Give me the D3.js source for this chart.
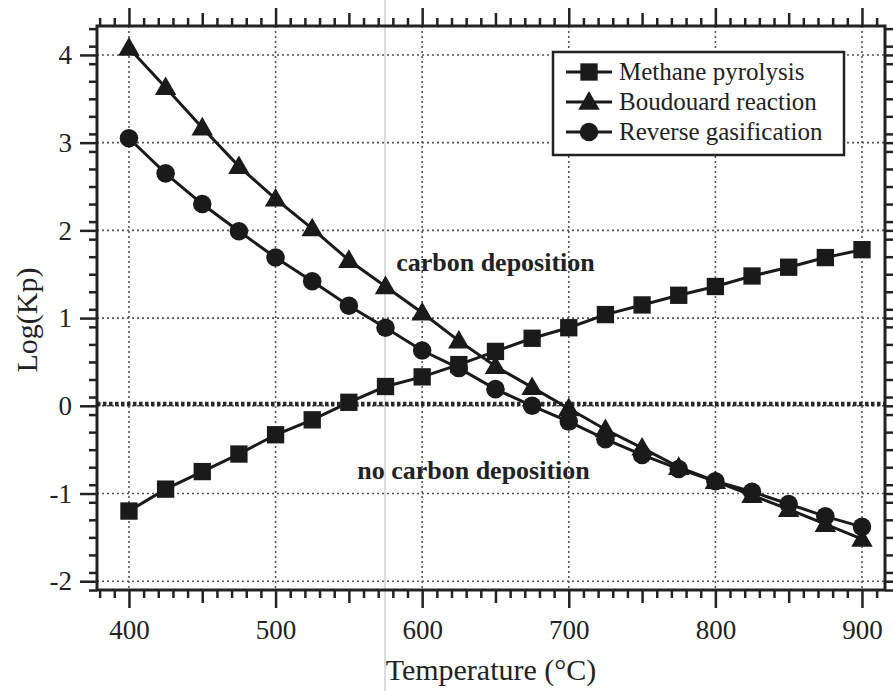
<!DOCTYPE html>
<html>
<head>
<meta charset="utf-8">
<script src="https://cdn.jsdelivr.net/npm/d3@7"></script>
<style>
  html, body { margin: 0; padding: 0; background: #fff; }
  svg { display: block; }
  text { font-family: "Liberation Serif", "Times New Roman", serif !important; fill: #222; }
</style>
</head>
<body>
<svg id="chart" width="893" height="691"></svg>
<script>
// ---- data ----
const temperatures = [400, 425, 450, 475, 500, 525, 550, 575, 600, 625, 650, 675, 700, 725, 750, 775, 800, 825, 850, 875, 900];
const methanePyrolysis = [-1.2, -0.95, -0.75, -0.55, -0.33, -0.16, 0.04, 0.22, 0.33, 0.47, 0.62, 0.77, 0.89, 1.04, 1.15, 1.26, 1.36, 1.48, 1.58, 1.69, 1.78];
const boudouardReaction = [4.08, 3.63, 3.17, 2.73, 2.36, 2.02, 1.66, 1.36, 1.06, 0.74, 0.45, 0.21, -0.03, -0.27, -0.48, -0.7, -0.86, -1.02, -1.18, -1.35, -1.52];
const reverseGasification = [3.05, 2.65, 2.3, 1.99, 1.69, 1.42, 1.14, 0.89, 0.63, 0.43, 0.19, 0.0, -0.18, -0.38, -0.56, -0.72, -0.86, -0.98, -1.12, -1.26, -1.38];
const seriesNames = ["Methane pyrolysis", "Boudouard reaction", "Reverse gasification"];
const xTickValues = [400, 500, 600, 700, 800, 900];
const yTickValues = [-2, -1, 0, 1, 2, 3, 4];
const zeroLine = 0.02;
const annotations = [
  { text: "carbon deposition", x: 650, y: 1.54 },
  { text: "no carbon deposition", x: 635, y: -0.83 }
];

// ---- layout ----
const svg = d3.select("#chart");
const plot = { left: 97, right: 885, top: 26, bottom: 590 };
const x = d3.scaleLinear().domain([378.2, 915.7]).range([plot.left, plot.right]);
const y = d3.scaleLinear().domain([-2.1, 4.33]).range([plot.bottom, plot.top]);
const serif = "'Liberation Serif', 'Times New Roman', serif";

// scan fold line
svg.append("line").attr("x1", 385).attr("x2", 385).attr("y1", 0).attr("y2", 691)
  .attr("stroke", "#b8b8b8").attr("stroke-width", 1);

// grid
const grid = svg.append("g");
grid.selectAll("line.gx").data(xTickValues).join("line")
  .attr("x1", d => x(d)).attr("x2", d => x(d))
  .attr("y1", plot.top).attr("y2", plot.bottom)
  .attr("stroke", "#555").attr("stroke-width", 1.6).attr("stroke-dasharray", "2,3");
grid.selectAll("line.gy").data(yTickValues).join("line")
  .attr("x1", plot.left).attr("x2", plot.right)
  .attr("y1", d => y(d)).attr("y2", d => y(d))
  .attr("stroke", "#555").attr("stroke-width", 1.6).attr("stroke-dasharray", "2,3");

// thick zero line
svg.append("line")
  .attr("x1", plot.left).attr("x2", plot.right)
  .attr("y1", y(zeroLine)).attr("y2", y(zeroLine))
  .attr("stroke", "#2a2a2a").attr("stroke-width", 4.5).attr("stroke-dasharray", "3.5,2.5");

// axes
function styleAxis(g) {
  g.attr("font-family", serif);
  g.select(".domain").remove();
  g.selectAll(".tick line").attr("stroke", "#222").attr("stroke-width", 2.5);
}
const xMinor = d3.range(380, 916, 10).filter(v => v % 50 !== 0);
const xMid = d3.range(350, 916, 50).filter(v => v % 100 !== 0 && v >= 380);
const yMinor = d3.range(-21, 44, 2).map(v => v / 10).filter(v => Math.abs(v - Math.round(v)) > 1e-6);
const plainFormat = d => String(d);

function addXAxis(gen, ty, labels) {
  svg.append("g").attr("transform", `translate(0,${ty})`)
    .call(gen(x).tickValues(xMinor).tickSize(8).tickFormat("")).call(styleAxis);
  svg.append("g").attr("transform", `translate(0,${ty})`)
    .call(gen(x).tickValues(xMid).tickSize(13).tickFormat("")).call(styleAxis);
  const g = svg.append("g").attr("transform", `translate(0,${ty})`)
    .call(gen(x).tickValues(xTickValues).tickSize(18).tickPadding(12).tickFormat(labels ? plainFormat : ""))
    .call(styleAxis);
  g.attr("font-size", 27);
  g.selectAll("text").attr("fill", "#222");
}
function addYAxis(gen, tx, labels) {
  svg.append("g").attr("transform", `translate(${tx},0)`)
    .call(gen(y).tickValues(yMinor).tickSize(8).tickFormat("")).call(styleAxis);
  const g = svg.append("g").attr("transform", `translate(${tx},0)`)
    .call(gen(y).tickValues(yTickValues).tickSize(17).tickPadding(8).tickFormat(labels ? plainFormat : ""))
    .call(styleAxis);
  g.attr("font-size", 27);
  g.selectAll("text").attr("fill", "#222");
}
addXAxis(d3.axisBottom, plot.bottom, true);
addXAxis(d3.axisTop, plot.top, false);
addYAxis(d3.axisLeft, plot.left, true);
addYAxis(d3.axisRight, plot.right, false);

// frame
svg.append("rect").attr("x", plot.left).attr("y", plot.top)
  .attr("width", plot.right - plot.left).attr("height", plot.bottom - plot.top)
  .attr("fill", "none").attr("stroke", "#222").attr("stroke-width", 3);

// series
const symbols = [d3.symbolSquare, d3.symbolTriangle, d3.symbolCircle];
const symbolSizes = [300, 200, 270];
const seriesValues = [methanePyrolysis, boudouardReaction, reverseGasification];
const line = d3.line().x(d => x(d[0])).y(d => y(d[1]));
seriesValues.forEach((vals, i) => {
  const pts = temperatures.map((t, j) => [t, vals[j]]);
  svg.append("path").datum(pts).attr("d", line)
    .attr("fill", "none").attr("stroke", "#1a1a1a").attr("stroke-width", 3);
  svg.append("g").selectAll("path").data(pts).join("path")
    .attr("transform", d => `translate(${x(d[0])},${y(d[1]) + (i === 1 ? 1.5 : 0)})`)
    .attr("d", d3.symbol().type(symbols[i]).size(symbolSizes[i]))
    .attr("fill", "#1a1a1a");
});

// annotations
svg.selectAll("text.ann").data(annotations).join("text")
  .attr("x", d => x(d.x)).attr("y", d => y(d.y))
  .attr("text-anchor", "middle")
  .style("font-size", "26px").style("font-weight", "bold")
  .text(d => d.text);

// legend
const lg = svg.append("g");
lg.append("rect").attr("x", 553).attr("y", 52).attr("width", 291).attr("height", 103)
  .attr("fill", "#fff").attr("stroke", "#222").attr("stroke-width", 2.5);
seriesNames.forEach((name, i) => {
  const cy = 72 + i * 30;
  lg.append("line").attr("x1", 566).attr("x2", 612).attr("y1", cy).attr("y2", cy)
    .attr("stroke", "#1a1a1a").attr("stroke-width", 3);
  lg.append("path").attr("transform", `translate(589,${cy + (i === 1 ? 1.5 : 0)})`)
    .attr("d", d3.symbol().type(symbols[i]).size(symbolSizes[i])).attr("fill", "#1a1a1a");
  lg.append("text").attr("x", 619).attr("y", cy + 8).style("font-size", "25px").text(name);
});

// axis titles
svg.append("text").attr("x", (plot.left + plot.right) / 2).attr("y", 680)
  .attr("text-anchor", "middle").style("font-size", "30px").text("Temperature (°C)");
svg.append("text").attr("transform", "translate(37,320) rotate(-90)")
  .attr("text-anchor", "middle").style("font-size", "30px").text("Log(Kp)");
</script>
</body>
</html>
